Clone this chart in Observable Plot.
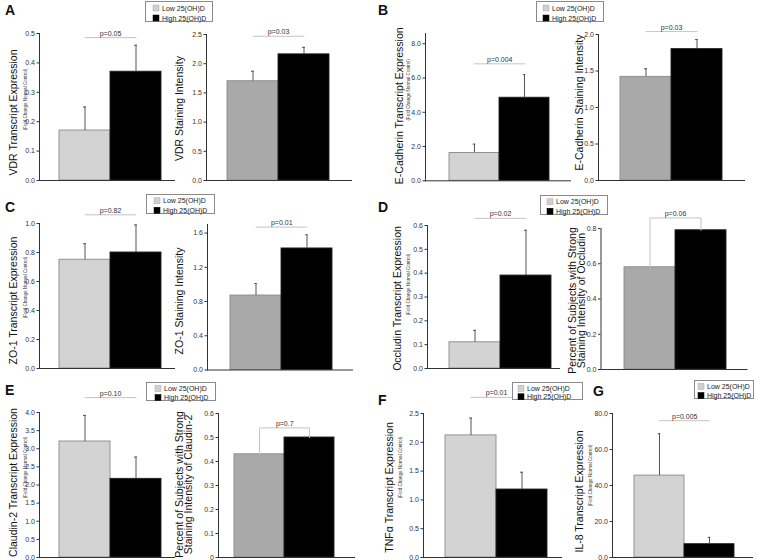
<!DOCTYPE html>
<html><head><meta charset="utf-8">
<script src="https://cdn.jsdelivr.net/npm/d3@7"></script>
<script src="https://cdn.jsdelivr.net/npm/@observablehq/plot@0.6"></script>
<style>
body{margin:0;background:#fff;}
#fig{position:relative;width:757px;height:560px;overflow:hidden;font-family:"Liberation Sans",Arial,sans-serif;background:#fff;}
</style></head><body><div id="fig"></div>
<script>
// ---------------- DATA ----------------
const groups = ["Low", "High"];
const legendLabels = ["Low 25(OH)D", "High 25(OH)D"];
const panelLetters = ["A", "B", "C", "D", "E", "F", "G"];
const yLabels = [
  "VDR Transcript Expression", "VDR Staining Intensity",
  "E-Cadherin Transcript Expression", "E-Cadherin Staining Intensity",
  "ZO-1 Transcript Expression", "ZO-1 Staining Intensity",
  "Occludin Transcript Expression", "Percent of Subjects with Strong\nStaining Intensity of Occludin",
  "Claudin-2 Transcript Expression", "Percent of Subjects with Strong\nStaining Intensity of Claudin-2",
  "TNFα Transcript Expression", "IL-8 Transcript Expression"
];
const subLabel = "(Fold Change Normal Control)";
const isTranscript = [true, false, true, false, true, false, true, false, true, false, true, true];
const lowMean  = [0.17, 1.70, 1.62, 1.42, 0.75, 0.87, 0.11, 0.58, 3.20, 0.43, 2.12, 45.5];
const lowUpper = [0.25, 1.87, 2.14, 1.53, 0.86, 1.01, 0.16, null, 3.92, null, 2.42, 68.8];
const highMean = [0.37, 2.16, 4.85, 1.80, 0.80, 1.42, 0.39, 0.79, 2.17, 0.50, 1.18, 7.4];
const highUpper= [0.46, 2.28, 6.20, 1.93, 0.99, 1.58, 0.58, null, 2.77, null, 1.48, 11.2];
const pTexts = ["p=0.05", "p=0.03", "p=0.004", "p=0.03", "p=0.82", "p=0.01", "p=0.02", "p=0.06", "p=0.10", "p=0.7", "p=0.01", "p=0.005"];
const pLevel = [0.486, 2.47, 6.83, 2.04, 1.06, 1.67, 0.63, 0.86, 4.41, 0.54, 2.78, 76];
const pBracket = [false, false, false, false, false, false, false, true, false, true, false, false];
const yMax = [0.5, 2.5, 8.6, 2.0, 1.0, 1.7, 0.6, 0.8, 4.0, 0.6, 2.5, 80];
const yTicks = [
  [0, 0.1, 0.2, 0.3, 0.4, 0.5], [0, 0.5, 1, 1.5, 2, 2.5], [0, 2, 4, 6, 8], [0, 0.5, 1, 1.5, 2],
  [0, 0.2, 0.4, 0.6, 0.8, 1], [0, 0.4, 0.8, 1.2, 1.6], [0, 0.1, 0.2, 0.3, 0.4, 0.5, 0.6], [0, 0.2, 0.4, 0.6, 0.8],
  [0, 0.5, 1, 1.5, 2, 2.5, 3, 3.5, 4], [0, 0.1, 0.2, 0.3, 0.4, 0.5, 0.6], [0, 0.5, 1, 1.5, 2, 2.5], [0, 20, 40, 60, 80]
];
const zeroAsInteger = [false, false, false, false, false, false, false, false, false, true, false, false];

// ---------------- LAYOUT (pixel positions, styles) ----------------
const layout = [
  {ax: 39,  xEnd: 175, yTop: 33,    y0: 180, b0: 59,  b1: 161, lx: 14,  ly: 112, sx: 25,  sy: 99},
  {ax: 206, xEnd: 352, yTop: 34,    y0: 180, b0: 227, b1: 329, lx: 180, ly: 108},
  {ax: 425, xEnd: 571, yTop: 32.7,  y0: 180, b0: 448, b1: 549, lx: 400, ly: 105, sx: 408, sy: 89},
  {ax: 598, xEnd: 745, yTop: 34,    y0: 180, b0: 620, b1: 722, lx: 580, ly: 102},
  {ax: 39,  xEnd: 175, yTop: 223,   y0: 368, b0: 59,  b1: 161, lx: 14,  ly: 300, sx: 25,  sy: 287},
  {ax: 207, xEnd: 353, yTop: 223.5, y0: 369, b0: 229, b1: 332, lx: 180, ly: 300},
  {ax: 427, xEnd: 560, yTop: 225,   y0: 368, b0: 449, b1: 551, lx: 398, ly: 298, sx: 408, sy: 284},
  {ax: 600, xEnd: 747, yTop: 228,   y0: 369, b0: 623, b1: 725, lx: 576.5, ly: 300},
  {ax: 39,  xEnd: 175, yTop: 412,   y0: 557, b0: 59,  b1: 161, lx: 14,  ly: 482, sx: 25,  sy: 467},
  {ax: 218, xEnd: 355, yTop: 413,   y0: 557, b0: 233, b1: 334, lx: 184, ly: 484},
  {ax: 423, xEnd: 562, yTop: 413,   y0: 557, b0: 445, b1: 547, lx: 390, ly: 487, sx: 400, sy: 467},
  {ax: 612, xEnd: 753, yTop: 413,   y0: 557, b0: 633, b1: 734, lx: 580, ly: 491, sx: 590, sy: 475}
];
const letterPos = [[5, 15], [378, 15], [5, 212], [378, 212], [5, 395], [378, 405], [593, 396]];
const legendPos = [
  [145, 1, 67, 20, 8], [536, 1, 67, 20, 7], [146, 194, 68, 19, 8], [540, 195, 67, 19, 7],
  [146, 382, 69, 18, 9], [512, 382, 70, 17, 6], [694, 380, 59, 18, 4]
];
const lowTranscriptFill = "#d3d3d3", lowStainingFill = "#a9a9a9";
const font = "'Liberation Sans', Arial, sans-serif";

const fig = document.getElementById("fig");

for (let i = 0; i < layout.length; i++) {
  const L = layout[i];
  const left = Math.min(L.lx, L.sx ?? L.lx) - 12;
  const top = L.yTop - 40;
  const width = L.xEnd - left + 4;
  const height = L.y0 - top + 4;
  const bw = (L.b1 - L.b0) / 2;
  const rows = groups.map((g, j) => ({g, v: j ? highMean[i] : lowMean[i], e: j ? highUpper[i] : lowUpper[i]}));
  const errRows = rows.filter(d => d.e != null);
  const lowFill = isTranscript[i] ? lowTranscriptFill : lowStainingFill;
  const pPts = pBracket[i]
    ? [{g: groups[0], v: lowMean[i]}, {g: groups[0], v: pLevel[i]}, {g: groups[1], v: pLevel[i]}, {g: groups[1], v: highMean[i]}]
    : [{g: groups[0], v: pLevel[i]}, {g: groups[1], v: pLevel[i]}];
  const fmt = d => (d === 0 && zeroAsInteger[i]) ? "0" : d3.format(".1f")(d);

  const marks = [
    Plot.barY(rows, {x: "g", y: "v", fill: d => d.g === groups[0] ? lowFill : "#000",
      stroke: d => d.g === groups[0] ? "#8a8a8a" : "#222", strokeWidth: 0.9}),
    Plot.ruleX(errRows, {x: "g", y1: "v", y2: "e", stroke: "#555", strokeWidth: 1}),
    Plot.tickY(errRows, {x: "g", y: "e", stroke: "#555", strokeWidth: 1, insetLeft: bw / 2 - 1.5, insetRight: bw / 2 - 1.5}),
    Plot.line(pPts, {x: "g", y: "v", stroke: "#c4c4c4", strokeWidth: 1}),
    Plot.text([{g: groups[0], v: pLevel[i], t: pTexts[i]}], {x: "g", y: "v", text: "t", dx: bw / 2, dy: -2,
      lineAnchor: "bottom", fontSize: 7, fill: "#333"}),
    Plot.axisY({ticks: yTicks[i], tickFormat: fmt, tickSize: 2.5, tickPadding: 2, fontSize: 7, label: null}),
    Plot.frame({anchor: "left", stroke: "#333"}),
    Plot.ruleY([0], {stroke: "#333"}),
    Plot.text([yLabels[i]], {text: d => d, frameAnchor: "top-left", dx: L.lx - L.ax, dy: L.ly - L.yTop,
      rotate: -90, textAnchor: "middle", lineAnchor: "middle", fontSize: 10.5, lineHeight: 0.88, fill: "#111"})
  ];
  if (L.sx != null) {
    marks.push(Plot.text([subLabel], {text: d => d, frameAnchor: "top-left", dx: L.sx - L.ax, dy: L.sy - L.yTop,
      rotate: -90, textAnchor: "middle", lineAnchor: "middle", fontSize: 4.6, fill: "#333"}));
  }

  const svg = Plot.plot({
    width, height,
    marginLeft: L.ax - left, marginRight: width - (L.xEnd - left),
    marginTop: L.yTop - top, marginBottom: height - (L.y0 - top),
    x: {domain: groups, range: [L.b0 - left, L.b1 - left], padding: 0, axis: null},
    y: {domain: [0, yMax[i]], axis: null},
    style: `background:none;overflow:visible;max-width:none;font-family:${font};font-size:7px;color:#333;`,
    marks
  });
  svg.style.position = "absolute";
  svg.style.left = left + "px";
  svg.style.top = top + "px";
  fig.appendChild(svg);
}

// overlay: panel letters and legends
const over = d3.select(fig).append("svg")
  .attr("width", 757).attr("height", 560)
  .style("position", "absolute").style("left", "0px").style("top", "0px")
  .style("font-family", font);
panelLetters.forEach((t, k) => {
  over.append("text").attr("x", letterPos[k][0]).attr("y", letterPos[k][1])
    .attr("font-size", 14).attr("font-weight", "bold").attr("fill", "#111").text(t);
});
legendPos.forEach(([x, y, w, h, sw]) => {
  const g = over.append("g");
  g.append("rect").attr("x", x + 0.5).attr("y", y + 0.5).attr("width", w).attr("height", h)
    .attr("fill", "#fff").attr("stroke", "#8a8a8a");
  const rowH = h / 2;
  legendLabels.forEach((lab, j) => {
    const cy = y + 2 + rowH * j + rowH / 2;
    g.append("rect").attr("x", x + sw).attr("y", cy - 3).attr("width", 6).attr("height", 6)
      .attr("fill", j ? "#000" : "#d0d0d0").attr("stroke", j ? "#000" : "#aaa").attr("stroke-width", 0.5);
    g.append("text").attr("x", x + sw + 9).attr("y", cy + 2.5).attr("font-size", 7).attr("fill", "#222").text(lab);
  });
});
</script>
</body></html>
